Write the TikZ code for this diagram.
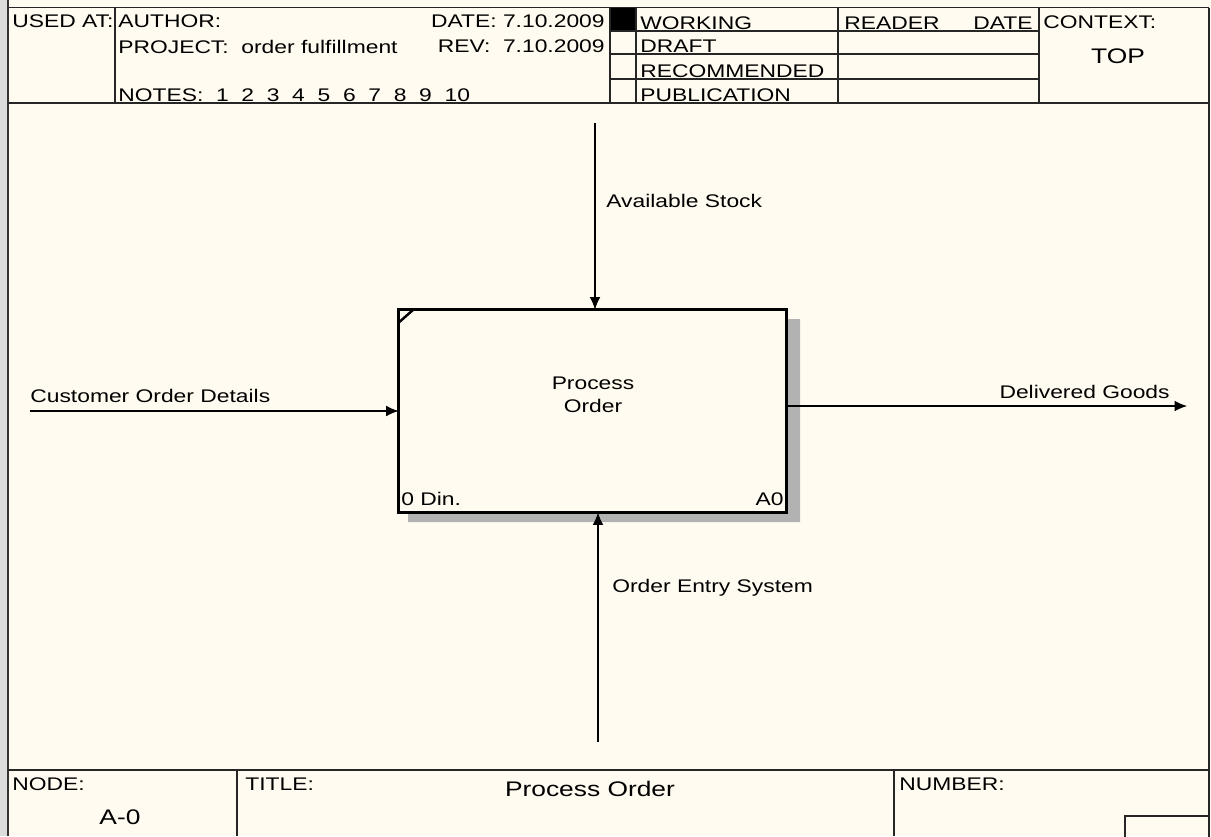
\documentclass[tikz,border=0pt]{standalone}
\usepackage{fontspec}
\setmainfont{Liberation Sans}[FakeStretch=1.25]
\usetikzlibrary{arrows.meta,positioning}
\definecolor{paper}{HTML}{FFFBF0}
\definecolor{rim}{HTML}{DCDCDC}
\tikzset{
  frame/.style={line width=0.9pt, black!85},
  txt/.style={inner sep=0pt, font=\fontsize{10.4pt}{13pt}\selectfont},
  bigtxt/.style={inner sep=0pt, font=\fontsize{12pt}{14pt}\selectfont},
  actbox/.style={draw, line width=1.7pt, minimum width=7.76cm, minimum height=4.06cm,
                 outer sep=0pt, inner sep=0pt},
  shade/.style={fill=gray!60},
  arr/.style={-{Latex[length=7pt,width=6pt]}, line width=0.6pt},
}

\begin{document}
\begin{tikzpicture}[x=0.02cm, y=-0.02cm]
  \useasboundingbox (0,0) rectangle (1211,836);
  \fill[paper] (0,0) rectangle (1211,836);
  \fill[rim] (0,0) rectangle (7,836);

  % sheet frame
  \draw[frame] (8,7.5) -- (1209,7.5);
  \draw[line width=1.2pt, black!80] (8,0) -- (8,836);
  \draw[frame] (1209,7.5) -- (1209,836);
  \draw[frame] (8,103) -- (1209,103);
  \draw[frame] (8,770) -- (1209,770);

  % header
  \node[txt, anchor=base west] (usedat) at (12,27) {USED AT:};
  \node[txt, anchor=base west] (author) at (118,27) {AUTHOR:};
  \node[txt, anchor=base west] (project) at (118,53) {PROJECT:\ \ order fulfillment};
  \node[txt, anchor=base west] (notes) at (118,101) {NOTES:\ \ 1\ \ 2\ \ 3\ \ 4\ \ 5\ \ 6\ \ 7\ \ 8\ \ 9\ \ 10};
  \node[txt, anchor=base east] (date) at (605,27) {DATE: 7.10.2009};
  \node[txt, anchor=base east] (rev) at (605,52) {REV:\ \ 7.10.2009};
  \fill (610,7.5) rectangle (636,31);
  \node[txt, anchor=base west] (working) at (640,29) {WORKING};
  \node[txt, anchor=base west] (draft) at (640,52) {DRAFT};
  \node[txt, anchor=base west] (recomm) at (640,77) {RECOMMENDED};
  \node[txt, anchor=base west] (public) at (640,101) {PUBLICATION};
  \node[txt, anchor=base west] (reader) at (844,29) {READER};
  \node[txt, anchor=base west] (rdate) at (973,29) {DATE};
  \node[txt, anchor=base west] (context) at (1043,28) {CONTEXT:};
  \node[bigtxt, anchor=base] (top) at (1118,63) {TOP};
  \foreach \x in {115,610,636,838,1039}
    \draw[frame] (\x,7.5) -- (\x,103);
  \foreach \y in {31,54,79}
    \draw[frame] (610,\y) -- (1039,\y);

  % activity box
  \fill[shade] (788,319) -- (800,319) -- (800,522) -- (408,522) -- (408,513) -- (788,513) -- cycle;
  \node[actbox, fill=paper] (a0) at (592.5,411) {};
  \draw[line width=1.4pt] ([xshift=8.5pt]a0.north west) -- ([yshift=-7.5pt]a0.north west);
  \node[txt, align=center, anchor=north] (a0name) at (593,377) {Process\\Order};
  \node[txt, anchor=base west] (a0dn) at (401,505) {0 Din.};
  \node[txt, anchor=base east] (a0num) at (784,505) {A0};

  % ICOM arrows
  \coordinate (ctl) at (595,123);
  \coordinate (inp) at (30,411);
  \coordinate (outp) at (1187,406);
  \coordinate (mech) at (598,742);
  \draw[arr] (ctl) -- (ctl |- a0.north);
  \draw[arr] (inp) -- (inp -| a0.west);
  \draw[arr] (outp -| a0.east) -- (outp);
  \draw[arr] (mech) -- (mech |- a0.south);
  \node[txt, anchor=base west] (ctllbl) at (606,207) {Available Stock};
  \node[txt, anchor=base west] (inplbl) at (30,402) {Customer Order Details};
  \node[txt, anchor=base east] (outlbl) at (1170,398) {Delivered Goods};
  \node[txt, anchor=base west] (mechlbl) at (612,592) {Order Entry System};

  % footer
  \node[txt, anchor=base west] (nodelbl) at (12,790) {NODE:};
  \node[bigtxt, anchor=base] (nodeval) at (120,824) {A-0};
  \node[txt, anchor=base west] (titlelbl) at (245,790) {TITLE:};
  \node[bigtxt, anchor=base] (titleval) at (590,796) {Process Order};
  \node[txt, anchor=base west] (numlbl) at (899,790) {NUMBER:};
  \foreach \x in {237,894}
    \draw[frame] (\x,770) -- (\x,836);
  \draw[frame] (1125,816) rectangle (1209,840);
\end{tikzpicture}
\end{document}
